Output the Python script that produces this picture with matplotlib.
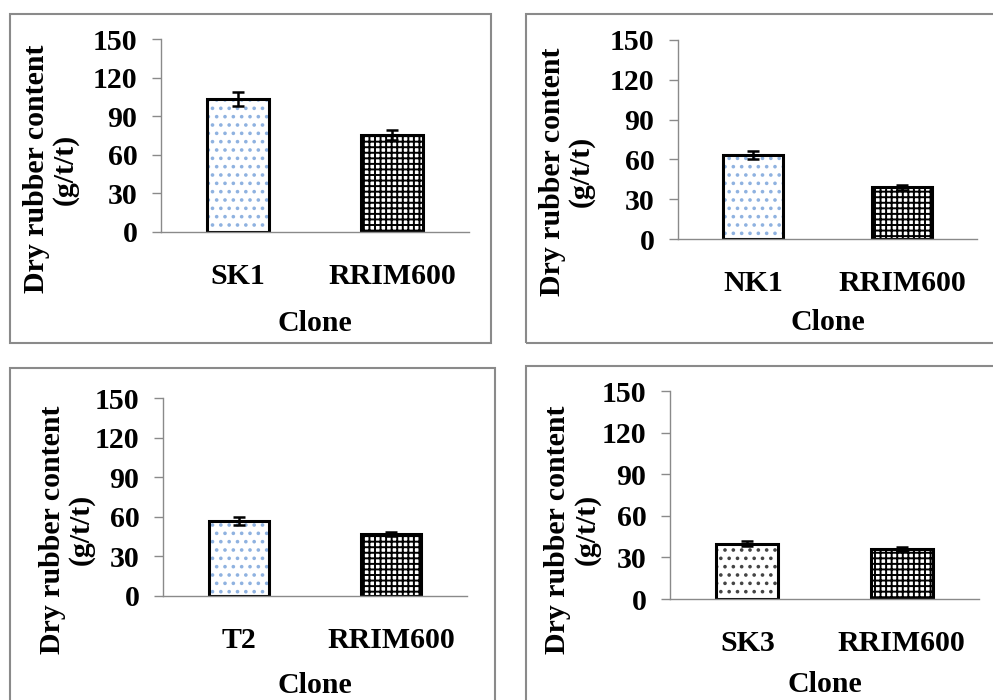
import numpy as np
import matplotlib
matplotlib.use('Agg')
import matplotlib.pyplot as plt
from matplotlib.patches import Rectangle

plt.rcParams['font.family'] = ['Liberation Serif', 'DejaVu Serif']
plt.rcParams['font.weight'] = 'bold'
plt.rcParams['hatch.linewidth'] = 1.4

# === data (dry rubber content, g/t/t) ===
clones_a = ['SK1', 'RRIM600']
drc_a = [103.5, 75.5]
err_a = [5.5, 4.0]

clones_b = ['NK1', 'RRIM600']
drc_b = [63.3, 39.0]
err_b = [3.0, 1.8]

clones_c = ['T2', 'RRIM600']
drc_c = [57.0, 47.0]
err_c = [3.0, 1.8]

clones_d = ['SK3', 'RRIM600']
drc_d = [40.0, 36.0]
err_d = [1.6, 1.4]

yticks = [0, 30, 60, 90, 120, 150]

W, H = 993, 700
GRAY = '#8a8a8a'
FS = 21.5

def fx(x): return x / W
def fy(y): return 1 - y / H

# axes box in pixels (left, top, right, bottom), frame box, label positions
panels = [
    (clones_a, drc_a, err_a, '#8fb2e0', (161, 39, 469, 232), (10, 14, 491, 343), -0.359, 0.326, -0.472),
    (clones_b, drc_b, err_b, '#8fb2e0', (678, 40, 977, 239), (526, 14, 1000, 343), -0.373, 0.340, -0.422),
    (clones_c, drc_c, err_c, '#8fb2e0', (163, 398, 467, 596), (10, 368, 495, 710), -0.317, 0.336, -0.450),
    (clones_d, drc_d, err_d, '#444444', (670, 391, 979, 599), (526, 366, 1000, 710), -0.316, 0.333, -0.411),
]

fig = plt.figure(figsize=(W / 100, H / 100), dpi=100)

for clones, vals, errs, dotc, box, frame, ylx, yly, xly in panels:
    # outer frame of each panel
    l, t, r, b = frame
    fig.patches.append(Rectangle((fx(l), fy(b)), fx(r) - fx(l), fy(t) - fy(b),
                                 transform=fig.transFigure, fill=False,
                                 edgecolor=GRAY, linewidth=1.5))

    l, t, r, b = box
    ax = fig.add_axes([fx(l), fy(b), fx(r) - fx(l), fy(t) - fy(b)])
    x = np.arange(len(clones))

    # pattern fill
    fills = ax.bar(x, vals, width=0.4, color='white', linewidth=0)
    for p, h, c in zip(fills, ['..', '+++'], [dotc, 'black']):
        p.set_edgecolor(c)
        p.set_linewidth(0)
        p.set_hatch(h)
    # outline + error bars
    ax.bar(x, vals, width=0.4, fill=False, edgecolor='black', linewidth=2.2,
           yerr=errs, capsize=4, error_kw=dict(elinewidth=1.8, capthick=1.8, ecolor='black'))

    ax.set_xlim(-0.5, 1.5)
    ax.set_ylim(0, 150)
    ax.set_yticks(yticks)
    ax.set_xticks(x)
    ax.set_xticklabels(clones, fontsize=FS, fontweight='bold')
    ax.set_yticklabels([str(v) for v in yticks], fontsize=FS, fontweight='bold')
    ax.tick_params(axis='x', length=0, pad=22.5)
    ax.tick_params(axis='y', length=6.5, width=1.0, color=GRAY, pad=10.5)
    for s in ['top', 'right']:
        ax.spines[s].set_visible(False)
    for s in ['left', 'bottom']:
        ax.spines[s].set_color(GRAY)
        ax.spines[s].set_linewidth(1.0)

    ax.text(ylx, yly, 'Dry rubber content\n(g/t/t)', transform=ax.transAxes,
            rotation=90, ha='center', va='center', multialignment='center',
            fontsize=FS, fontweight='bold', linespacing=1.07)
    ax.text(0.5, xly, 'Clone', transform=ax.transAxes, ha='center', va='center',
            fontsize=FS, fontweight='bold')

fig.savefig('out.png', dpi=100)
